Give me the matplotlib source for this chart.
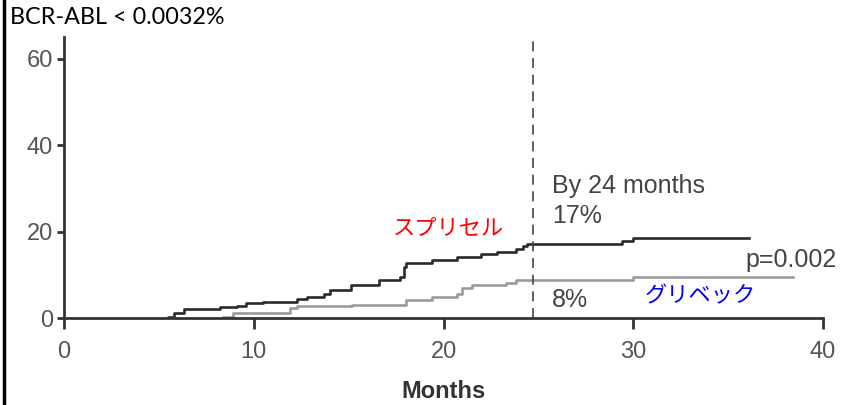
import matplotlib
matplotlib.use("Agg")
import matplotlib.pyplot as plt
from matplotlib.lines import Line2D

# cumulative incidence (%)
months_das = [5.5, 5.8, 6.3, 8.2, 9.1, 9.6, 10.5, 12.3, 12.8, 13.7, 14.0, 15.1, 16.6,
              17.7, 17.9, 18.0, 19.4, 20.7, 22.0, 22.8, 23.8, 24.2, 24.4, 29.4, 30.0, 36.1]
cum_das = [0.3, 1.2, 2.1, 2.5, 2.8, 3.5, 3.7, 4.4, 4.9, 5.6, 6.5, 7.6, 8.8,
           9.5, 11.8, 12.7, 13.4, 14.1, 14.8, 15.3, 16.0, 16.7, 17.1, 17.8, 18.5, 18.5]

months_ima = [8.4, 8.9, 11.9, 12.3, 15.2, 18.0, 19.4, 20.7, 21.0, 21.5, 23.3, 23.8, 30.0, 38.4]
cum_ima = [0.3, 1.1, 2.3, 2.8, 3.1, 4.2, 4.8, 5.6, 6.9, 7.6, 8.1, 8.8, 9.5, 9.5]

xticks = [0, 10, 20, 30, 40]
yticks = [0, 20, 40, 60]
cutoff = 24.7

num_font = ['Liberation Sans', 'DejaVu Sans']
jp_font = ['Noto Sans CJK JP', 'DejaVu Sans']

fig = plt.figure(figsize=(8.54, 4.05), dpi=100)
ax = fig.add_axes([0.075, 0.2148, 0.8887, 0.6938])

ax.step([months_das[0]] + months_das, [0] + cum_das, where='post', color='#2a2a2a', lw=1.9)
ax.step([months_ima[0]] + months_ima, [0] + cum_ima, where='post', color='#9a9a9a', lw=1.9)
ax.plot([cutoff, cutoff], [0, 64.5], color='#444444', lw=1.2, ls=(0, (6, 4)))

ax.set_xlim(0, 40)
ax.set_ylim(0, 65)
ax.set_xticks(xticks)
ax.set_yticks(yticks)
for s in ['top', 'right']:
    ax.spines[s].set_visible(False)
for s in ['left', 'bottom']:
    ax.spines[s].set_linewidth(2)
    ax.spines[s].set_color('#333333')
ax.spines['bottom'].set_bounds(0, 40)
ax.tick_params(axis='x', direction='out', length=8, width=2, color='#333333',
               labelsize=17, labelcolor='#555555', pad=8.5)
ax.tick_params(axis='y', direction='out', length=5, width=2, color='#333333',
               labelsize=17, labelcolor='#555555', pad=3)
for lab in ax.get_xticklabels() + ax.get_yticklabels():
    lab.set_family(num_font)

ax.set_xlabel('Months', fontsize=17, fontweight='bold', color='#333333',
              family=num_font, va='center')
ax.xaxis.set_label_coords(0.5, -0.262)

ax.text(25.7, 30.5, 'By 24 months', fontsize=18, color='#444444', family=num_font, va='center')
ax.text(25.7, 23.6, '17%', fontsize=18, color='#444444', family=num_font, va='center')
ax.text(25.7, 4.2, '8%', fontsize=18, color='#444444', family=num_font, va='center')
ax.text(40.7, 13.4, 'p=0.002', fontsize=18, color='#444444', family=num_font,
        va='center', ha='right')
ax.text(17.3, 20.8, 'スプリセル', fontsize=16, color='#ff0000', family=jp_font, va='center')
ax.text(30.6, 5.1, 'グリベック', fontsize=16, color='#0000ff', family=jp_font, va='center')

fig.text(10 / 854, 1 - 18 / 405, 'BCR-ABL < 0.0032%', fontsize=16.8, color='black',
         family=['Lato', 'DejaVu Sans'], va='center')

fig.add_artist(Line2D([4 / 854, 4 / 854], [0, 1], color='black', lw=2.5,
                      transform=fig.transFigure))

fig.savefig('out.png', dpi=100)
